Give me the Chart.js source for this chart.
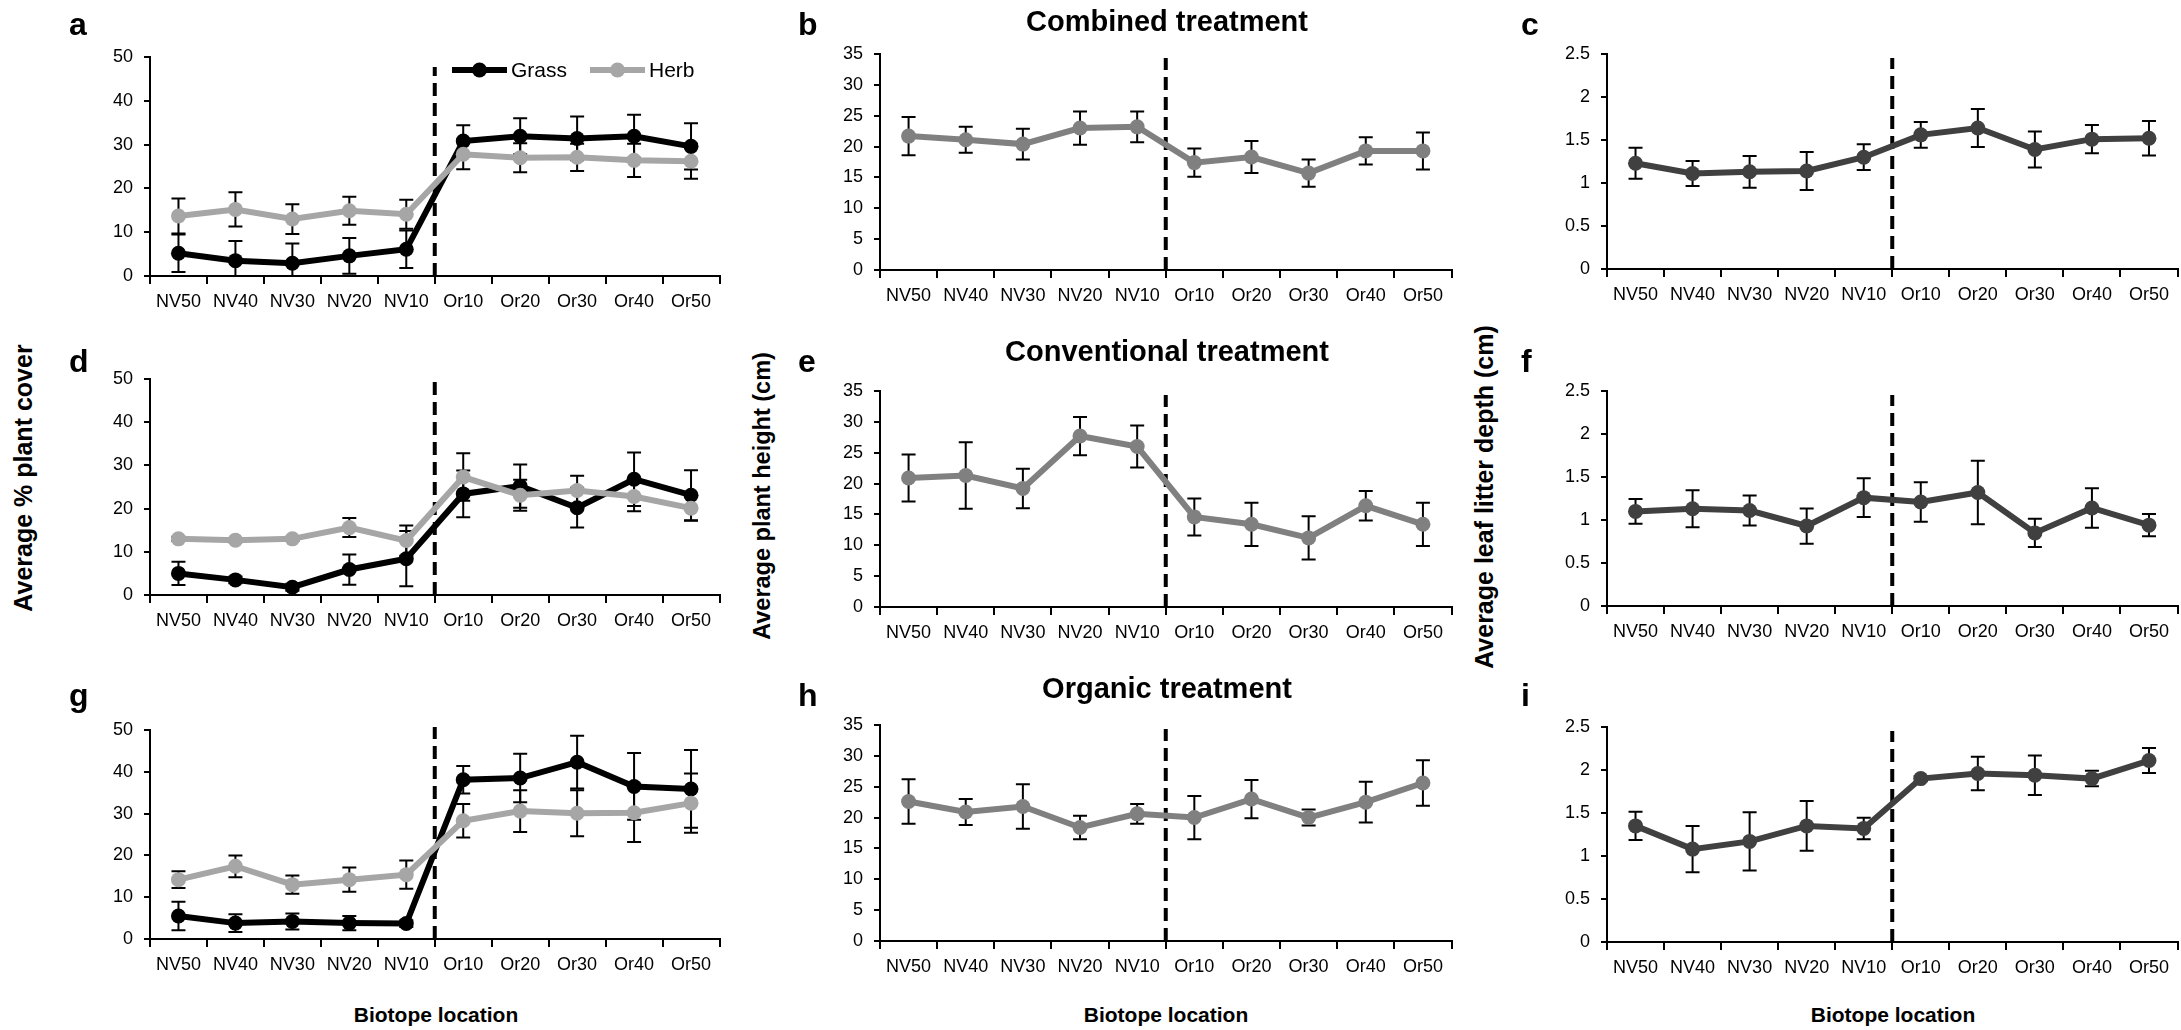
<!DOCTYPE html>
<html>
<head>
<meta charset="utf-8">
<script src="https://cdn.jsdelivr.net/npm/chart.js@4.4.1/dist/chart.umd.min.js"></script>
<style>
  html, body { margin: 0; padding: 0; background: #fff; }
  #page { position: relative; width: 2181px; height: 1030px; overflow: hidden; background: #fff;
          font-family: "Liberation Sans", Arial, sans-serif; color: #000; }
  canvas { position: absolute; }
  .lbl { position: absolute; font-weight: bold; white-space: nowrap; line-height: 1; }
  .letter { font-size: 32px; }
  .title { font-size: 29px; width: 600px; text-align: center; }
  .xtitle { font-size: 21px; width: 400px; text-align: center; }
  .ytitle { font-size: 25px; transform: translate(-50%, -50%) rotate(-90deg); }
</style>
</head>
<body>
<div id="page"></div>
<script>
// categories along every x axis
const categories = ["NV50", "NV40", "NV30", "NV20", "NV10", "Or10", "Or20", "Or30", "Or40", "Or50"];

// tick labels
const coverTicks = [0, 10, 20, 30, 40, 50];
const heightTicks = [0, 5, 10, 15, 20, 25, 30, 35];
const litterTicks = [0, 0.5, 1, 1.5, 2, 2.5];

// combined treatment (a, b, c)
const grassCombined = [5.2, 3.5, 2.9, 4.6, 6.1, 30.8, 31.9, 31.4, 31.9, 29.6];
const grassCombinedErr = [4.3, 4.5, 4.5, 4.1, 4.3, 3.6, 4.1, 5.0, 4.9, 5.3];
const herbCombined = [13.7, 15.2, 13.0, 14.9, 14.1, 27.8, 27.0, 27.1, 26.4, 26.2];
const herbCombinedErr = [4.0, 3.9, 3.4, 3.2, 3.3, 3.4, 3.3, 3.1, 3.8, 4.0];
const heightCombined = [21.7, 21.1, 20.4, 23.0, 23.2, 17.4, 18.3, 15.7, 19.3, 19.3];
const heightCombinedErr = [3.1, 2.1, 2.5, 2.7, 2.5, 2.3, 2.6, 2.2, 2.2, 3.0];
const litterCombined = [1.23, 1.11, 1.13, 1.14, 1.30, 1.56, 1.64, 1.39, 1.51, 1.52];
const litterCombinedErr = [0.18, 0.145, 0.185, 0.22, 0.15, 0.15, 0.22, 0.21, 0.165, 0.2];

// conventional treatment (d, e, f)
const grassConventional = [5.0, 3.5, 1.8, 5.9, 8.4, 23.4, 25.2, 20.2, 26.8, 23.1];
const grassConventionalErr = [2.7, 0.8, 0.8, 3.5, 6.4, 5.4, 5.0, 4.6, 6.2, 5.8];
const herbConventional = [13.0, 12.7, 13.0, 15.6, 12.6, 27.3, 23.1, 24.2, 22.8, 20.1];
const herbConventionalErr = [0.5, 0.5, 0.5, 2.2, 3.5, 5.5, 3.6, 3.4, 3.4, 2.9];
const heightConventional = [20.9, 21.3, 19.2, 27.7, 26.0, 14.6, 13.4, 11.2, 16.4, 13.4];
const heightConventionalErr = [3.8, 5.4, 3.2, 3.1, 3.4, 3.0, 3.5, 3.5, 2.4, 3.5];
const litterConventional = [1.10, 1.13, 1.11, 0.93, 1.26, 1.21, 1.32, 0.85, 1.14, 0.94];
const litterConventionalErr = [0.145, 0.215, 0.175, 0.205, 0.225, 0.23, 0.37, 0.165, 0.23, 0.13];

// organic treatment (g, h, i)
const grassOrganic = [5.5, 3.8, 4.2, 3.8, 3.7, 38.1, 38.5, 42.3, 36.5, 35.9];
const grassOrganicErr = [3.4, 2.1, 1.9, 1.7, 0.8, 3.3, 5.8, 6.3, 8.0, 9.3];
const herbOrganic = [14.2, 17.4, 13.0, 14.2, 15.4, 28.3, 30.6, 30.1, 30.2, 32.5];
const herbOrganicErr = [2.0, 2.6, 2.2, 2.9, 3.4, 4.0, 5.0, 5.5, 7.0, 7.1];
const heightOrganic = [22.6, 20.9, 21.8, 18.4, 20.6, 20.0, 23.0, 20.0, 22.5, 25.6];
const heightOrganicErr = [3.6, 2.1, 3.6, 1.9, 1.6, 3.5, 3.1, 1.3, 3.3, 3.7];
const litterOrganic = [1.35, 1.08, 1.17, 1.35, 1.32, 1.90, 1.96, 1.94, 1.90, 2.11];
const litterOrganicErr = [0.165, 0.27, 0.34, 0.29, 0.125, 0.03, 0.195, 0.23, 0.09, 0.145];

const FONT = '"Liberation Sans", Arial, sans-serif';
const YW = 70, XH = 50, PAD_T = 26, PAD_R = 6, CAP = 7;
const GRASS = "#000000", HERB = "#a6a6a6", HEIGHT = "#808080", LITTER = "#404040";
const page = document.getElementById("page");

function series(data, errors, color, order) {
  return {
    data: data, errors: errors, order: order || 1,
    borderColor: color, backgroundColor: color,
    borderWidth: 6, tension: 0,
    pointRadius: 7.5, pointBorderWidth: 0, pointBackgroundColor: color
  };
}

// error bars, read through the chart scales
const errorBars = {
  id: "errorBars",
  beforeDatasetsDraw(chart) {
    const { ctx, scales: { x, y } } = chart;
    ctx.save();
    ctx.strokeStyle = "#000";
    ctx.lineWidth = 2;
    ctx.setLineDash([]);
    chart.data.datasets.forEach(ds => {
      ds.data.forEach((v, i) => {
        const e = ds.errors[i];
        const px = x.getPixelForValue(i);
        const yTop = y.getPixelForValue(v + e);
        const yBot = y.getPixelForValue(Math.max(v - e, 0));
        ctx.beginPath();
        ctx.moveTo(px, yTop); ctx.lineTo(px, yBot);
        ctx.moveTo(px - CAP, yTop); ctx.lineTo(px + CAP, yTop);
        if (v - e > 0) { ctx.moveTo(px - CAP, yBot); ctx.lineTo(px + CAP, yBot); }
        ctx.stroke();
      });
    });
    ctx.restore();
  }
};

// dashed boundary between the native vegetation and the orchard
const divider = {
  id: "divider",
  beforeDatasetsDraw(chart, args, opts) {
    const { ctx, scales: { x, y } } = chart;
    const px = x.getPixelForValue(4.5);
    ctx.save();
    ctx.strokeStyle = "#000";
    ctx.lineWidth = 4;
    ctx.setLineDash([13, 7]);
    ctx.beginPath();
    ctx.moveTo(px, y.getPixelForValue(0));
    ctx.lineTo(px, chart.chartArea.top + (opts.gap || 0));
    ctx.stroke();
    ctx.restore();
  }
};

// legend of panel a (drawn inside the plot)
const lineLegend = {
  id: "lineLegend",
  afterDatasetsDraw(chart, args, opts) {
    if (!opts.items) return;
    const ctx = chart.ctx;
    ctx.save();
    opts.items.forEach(it => {
      const x0 = it.x - opts.ox, y0 = it.y - opts.oy;
      ctx.strokeStyle = it.color; ctx.fillStyle = it.color;
      ctx.lineWidth = 6;
      ctx.beginPath(); ctx.moveTo(x0, y0); ctx.lineTo(x0 + 55, y0); ctx.stroke();
      ctx.beginPath(); ctx.arc(x0 + 27.5, y0, 7.5, 0, Math.PI * 2); ctx.fill();
      ctx.fillStyle = "#000";
      ctx.font = "21px " + FONT;
      ctx.textBaseline = "middle";
      ctx.fillText(it.label, x0 + 59, y0 + 1);
    });
    ctx.restore();
  }
};

function makePanel(p) {
  const w = (p.R - p.L) + YW + PAD_R;
  const h = (p.B - p.T) + PAD_T + XH;
  const ox = p.L - YW, oy = p.T - PAD_T;
  const canvas = document.createElement("canvas");
  canvas.width = w; canvas.height = h;
  canvas.style.left = ox + "px"; canvas.style.top = oy + "px";
  canvas.style.width = w + "px"; canvas.style.height = h + "px";
  page.appendChild(canvas);

  new Chart(canvas, {
    type: "line",
    data: { labels: categories, datasets: p.datasets },
    plugins: [errorBars, divider, lineLegend],
    options: {
      responsive: false,
      animation: false,
      events: [],
      layout: { padding: { top: PAD_T, right: PAD_R, left: 0, bottom: 0 } },
      plugins: {
        legend: { display: false },
        tooltip: { enabled: false },
        divider: { gap: p.gap },
        lineLegend: { items: p.legend, ox: ox, oy: oy }
      },
      scales: {
        x: {
          type: "category",
          offset: true,
          afterFit: s => { s.height = XH; },
          grid: { offset: true, drawOnChartArea: false, drawTicks: true, tickLength: 8, color: "#000", lineWidth: 2 },
          border: { display: true, color: "#000", width: 2 },
          ticks: { color: "#000", font: { family: FONT, size: 18 }, padding: 7, maxRotation: 0, autoSkip: false }
        },
        y: {
          min: p.ticks[0],
          max: p.ticks[p.ticks.length - 1],
          afterFit: s => { s.width = YW; },
          afterBuildTicks: s => { s.ticks = p.ticks.map(v => ({ value: v })); },
          grid: { drawOnChartArea: false, drawTicks: true, tickLength: 6, color: "#000", lineWidth: 2 },
          border: { display: true, color: "#000", width: 2 },
          ticks: { color: "#000", font: { family: FONT, size: 18 }, padding: 11, callback: v => String(v) }
        }
      }
    }
  });
}

const COL = [{ L: 150, R: 721 }, { L: 880, R: 1453 }, { L: 1607, R: 2179 }];

const panels = [
  { c: 0, T: 57, B: 276, ticks: coverTicks, gap: 10,
    datasets: [series(grassCombined, grassCombinedErr, GRASS, 2), series(herbCombined, herbCombinedErr, HERB, 1)],
    legend: [{ x: 452, y: 70, color: GRASS, label: "Grass" }, { x: 590, y: 70, color: HERB, label: "Herb" }] },
  { c: 1, T: 54, B: 270, ticks: heightTicks, gap: 4, datasets: [series(heightCombined, heightCombinedErr, HEIGHT)] },
  { c: 2, T: 54, B: 269, ticks: litterTicks, gap: 4, datasets: [series(litterCombined, litterCombinedErr, LITTER)] },
  { c: 0, T: 379, B: 595, ticks: coverTicks, gap: 3,
    datasets: [series(grassConventional, grassConventionalErr, GRASS, 2), series(herbConventional, herbConventionalErr, HERB, 1)] },
  { c: 1, T: 391, B: 607, ticks: heightTicks, gap: 4, datasets: [series(heightConventional, heightConventionalErr, HEIGHT)] },
  { c: 2, T: 391, B: 606, ticks: litterTicks, gap: 4, datasets: [series(litterConventional, litterConventionalErr, LITTER)] },
  { c: 0, T: 730, B: 939, ticks: coverTicks, gap: -3,
    datasets: [series(grassOrganic, grassOrganicErr, GRASS, 2), series(herbOrganic, herbOrganicErr, HERB, 1)] },
  { c: 1, T: 725, B: 941, ticks: heightTicks, gap: 4, datasets: [series(heightOrganic, heightOrganicErr, HEIGHT)] },
  { c: 2, T: 727, B: 942, ticks: litterTicks, gap: 4, datasets: [series(litterOrganic, litterOrganicErr, LITTER)] }
];

panels.forEach(p => {
  makePanel(Object.assign({}, p, { L: COL[p.c].L, R: COL[p.c].R }));
});

// text around the panels
function addText(cls, text, left, top, size) {
  const d = document.createElement("div");
  d.className = "lbl " + cls;
  d.textContent = text;
  d.style.left = left + "px";
  d.style.top = top + "px";
  if (size) d.style.fontSize = size + "px";
  page.appendChild(d);
}
const letters = ["a", "b", "c", "d", "e", "f", "g", "h", "i"];
const letterX = [69, 798, 1521];
const letterTop = [8, 345, 679];
letters.forEach((t, k) => addText("letter", t, letterX[k % 3], letterTop[Math.floor(k / 3)]));

const titles = ["Combined treatment", "Conventional treatment", "Organic treatment"];
const titleTop = [7, 337, 674];
titles.forEach((t, k) => addText("title", t, 1167 - 300, titleTop[k]));

[436, 1166, 1893].forEach(cx => addText("xtitle", "Biotope location", cx - 200, 1004));

addText("ytitle", "Average % plant cover", 23, 478);
addText("ytitle", "Average plant height (cm)", 763, 496, 23.5);
addText("ytitle", "Average leaf litter depth (cm)", 1484, 497);
</script>
</body>
</html>
